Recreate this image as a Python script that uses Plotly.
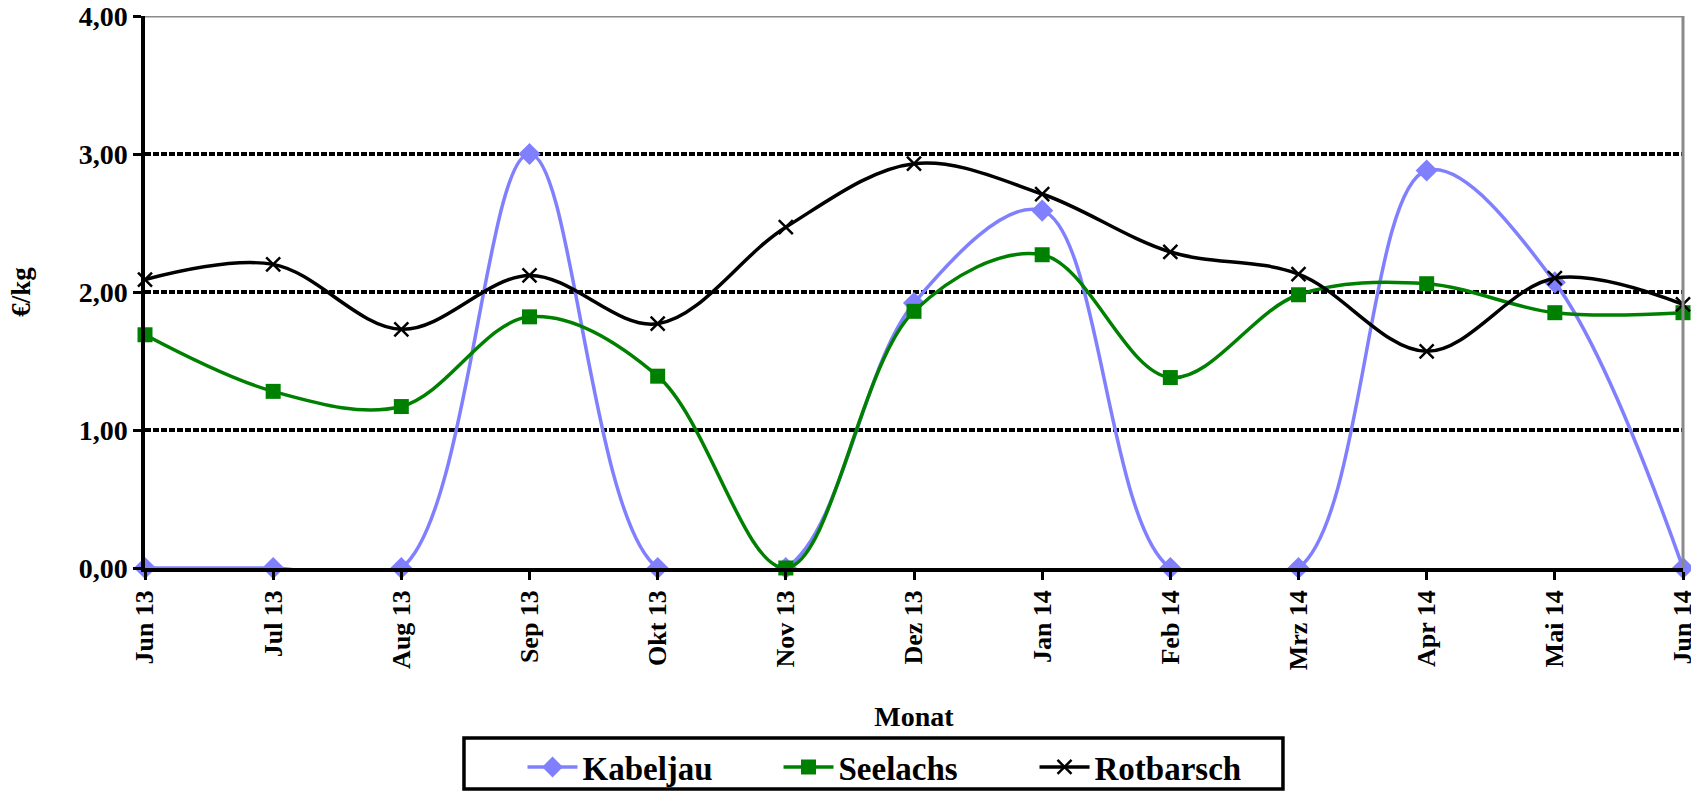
import plotly.graph_objects as go

months = ["Jun 13", "Jul 13", "Aug 13", "Sep 13", "Okt 13", "Nov 13", "Dez 13",
          "Jan 14", "Feb 14", "Mrz 14", "Apr 14", "Mai 14", "Jun 14"]

kabeljau = [0.00, 0.00, 0.00, 3.00, 0.00, 0.00, 1.92, 2.59, 0.00, 0.00, 2.88, 2.07, 0.00]
seelachs = [1.69, 1.28, 1.17, 1.82, 1.39, 0.00, 1.86, 2.27, 1.38, 1.98, 2.06, 1.85, 1.85]
rotbarsch = [2.09, 2.20, 1.73, 2.12, 1.77, 2.47, 2.93, 2.71, 2.29, 2.13, 1.57, 2.10, 1.91]

y_ticks = [0, 1, 2, 3, 4]

FONT = "Liberation Serif, Times New Roman, serif"

fig = go.Figure()

fig.add_trace(go.Scatter(
    x=months, y=kabeljau, name="Kabeljau", mode="lines+markers",
    line={"color": "#8080ff", "width": 3.5, "shape": "spline", "smoothing": 1},
    marker={"symbol": "diamond", "size": 17, "color": "#8080ff"},
    cliponaxis=False,
))
fig.add_trace(go.Scatter(
    x=months, y=seelachs, name="Seelachs", mode="lines+markers",
    line={"color": "#008000", "width": 3.5, "shape": "spline", "smoothing": 1},
    marker={"symbol": "square", "size": 15, "color": "#008000"},
    cliponaxis=False,
))
fig.add_trace(go.Scatter(
    x=months, y=rotbarsch, name="Rotbarsch", mode="lines+markers",
    line={"color": "#000000", "width": 3.5, "shape": "spline", "smoothing": 1},
    marker={"symbol": "x-thin", "size": 14, "line": {"color": "#000000", "width": 2.5}},
    cliponaxis=False,
))

# grey top and right frame
fig.add_shape(type="line", xref="paper", yref="y", x0=0, x1=1, y0=4, y1=4,
              line={"color": "#8a8a8a", "width": 3})
fig.add_shape(type="line", xref="paper", yref="y", x0=1, x1=1, y0=0, y1=4,
              line={"color": "#8a8a8a", "width": 3})
# legend frame
fig.add_shape(type="rect", xref="paper", yref="paper",
              x0=0.2074, x1=0.7399, y0=-0.4004, y1=-0.308,
              line={"color": "#000", "width": 3.5}, fillcolor="rgba(0,0,0,0)")

fig.update_xaxes(
    type="category", range=[0, len(months) - 1], automargin=False,
    tickangle=-90,
    tickfont={"family": FONT, "size": 26, "color": "#000", "weight": "bold"},
    ticks="outside", ticklen=8, tickwidth=2.5, tickcolor="#000",
    showline=True, linecolor="#000", linewidth=3.5, showgrid=False,
    title={"text": "Monat",
           "font": {"family": FONT, "size": 28, "color": "#000", "weight": "bold"},
           "standoff": 38},
)
fig.update_yaxes(
    range=[0, 4], tickvals=y_ticks, tickformat=".2f", automargin=False,
    tickfont={"family": FONT, "size": 28, "color": "#000", "weight": "bold"},
    ticks="outside", ticklen=8, tickwidth=2.5, tickcolor="#000",
    showline=True, linecolor="#000", linewidth=3.5,
    showgrid=True, gridcolor="#000", gridwidth=3.5, griddash="6px,2px",
    zeroline=False,
    title={"text": "€/kg",
           "font": {"family": FONT, "size": 27, "color": "#000", "weight": "bold"},
           "standoff": 41},
)

fig.update_layout(
    width=1691, height=791,
    margin={"l": 145, "r": 8, "t": 16, "b": 223},
    separators=",.",
    paper_bgcolor="#ffffff", plot_bgcolor="#ffffff",
    showlegend=True,
    legend={
        "orientation": "h", "xref": "container", "yref": "container",
        "x": 0.309, "xanchor": "left", "y": 0.0303, "yanchor": "middle",
        "borderwidth": 0, "bgcolor": "rgba(0,0,0,0)",
        "font": {"family": FONT, "size": 33, "color": "#000", "weight": "bold"},
        "itemwidth": 50, "entrywidth": 191,
    },
)

fig.write_html("out.html", config={"displayModeBar": False},
               post_script="document.body.style.margin='0';")
